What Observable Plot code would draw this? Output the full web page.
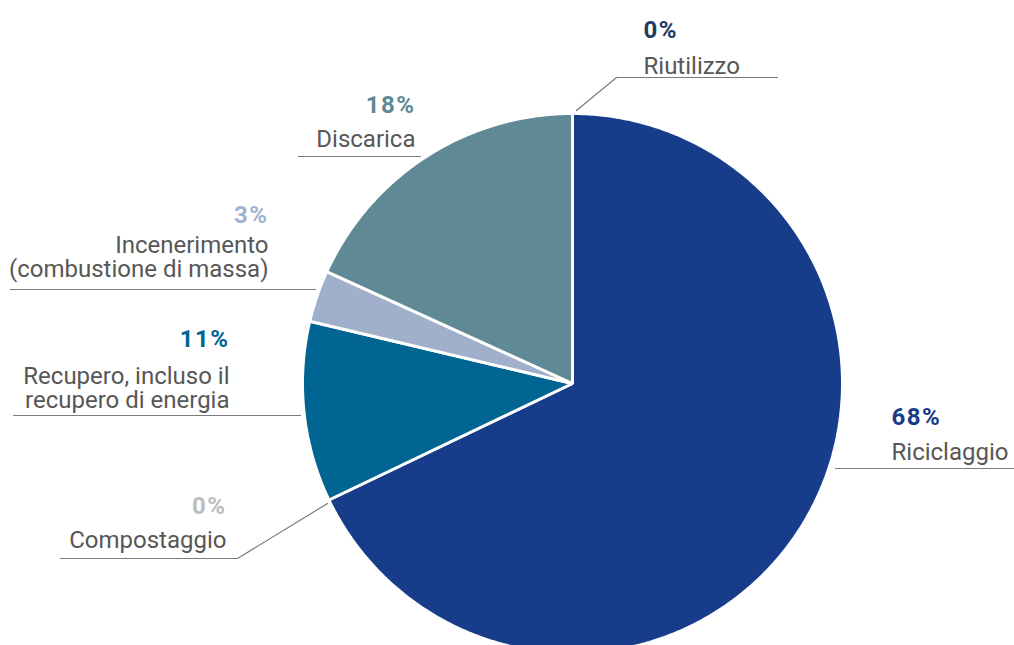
<!DOCTYPE html>
<html>
<head>
<meta charset="utf-8">
<script src="https://cdn.jsdelivr.net/npm/d3@7"></script>
<script src="https://cdn.jsdelivr.net/npm/@observablehq/plot@0.6"></script>
<style>
  html, body { margin: 0; padding: 0; background: #fff; }
  #chart svg { display: block; }
  .pct text { letter-spacing: 1.5px; }
</style>
</head>
<body>
<div id="chart"></div>
<script>
// ---- data ----
const categories = ["Riciclaggio", "Compostaggio", "Recupero", "Incenerimento", "Discarica", "Riutilizzo"];
const values = [67.9, 0, 10.8, 3.1, 18.2, 0];
const labelNames = [
  "Riciclaggio",
  "Compostaggio",
  "Recupero, incluso il\nrecupero di energia",
  "Incenerimento\n(combustione di massa)",
  "Discarica",
  "Riutilizzo"
];
const sliceColors = ["#173c8a", "#b8b8b8", "#006593", "#a0b0ca", "#5f8a95", "#1f3a60"];
const pctColors = ["#173c8a", "#bcbcbc", "#006593", "#a0b3d0", "#5f8a96", "#1f3a60"];

// ---- layout (pixels) ----
const W = 1014, H = 645;
const cx = 572, cy = 383, R = 270;
// label anchors: x, text anchor, pct baseline, name last-line baseline
const labelLayout = [
  {x: 891, anchor: "start", py: 424, ny: 459},
  {x: 226, anchor: "end",   py: 513, ny: 547},
  {x: 229, anchor: "end",   py: 346, ny: 407},
  {x: 268, anchor: "end",   py: 222, ny: 276},
  {x: 415, anchor: "end",   py: 112, ny: 146},
  {x: 643, anchor: "start", py: 37,  ny: 73}
];
const leaders = [
  [[835, 468], [1014, 468]],
  [[60, 558], [237, 558], [327, 503]],
  [[13, 415], [300, 415]],
  [[10, 289], [315, 289]],
  [[298, 156], [420, 156]],
  [[576, 110], [616, 77], [777, 77]]
];

// ---- build slices ----
const pie = d3.pie().sort(null).value(d => d.value)(
  categories.map((c, i) => ({key: c, value: values[i], color: sliceColors[i]}))
);
const slicePts = [];
for (const s of pie) {
  if (s.data.value <= 0) continue;
  const pts = [[cx, cy]];
  const n = Math.max(2, Math.ceil((s.endAngle - s.startAngle) / (Math.PI / 360)));
  for (let k = 0; k <= n; k++) {
    const a = s.startAngle + (s.endAngle - s.startAngle) * k / n;
    pts.push([cx + R * Math.sin(a), cy - R * Math.cos(a)]);
  }
  for (const [x, y] of pts) slicePts.push({key: s.data.key, color: s.data.color, x, y});
}

const leaderPts = [];
leaders.forEach((l, i) => l.forEach(([x, y]) => leaderPts.push({key: categories[i], x, y})));

const labels = categories.map((c, i) => ({
  key: c,
  pct: Math.round(values[i]) + "%",
  name: labelNames[i],
  pctColor: pctColors[i],
  ...labelLayout[i]
}));
const startLabels = labels.filter(d => d.anchor === "start");
const endLabels = labels.filter(d => d.anchor === "end");

const textMarks = [];
for (const [set, anchor] of [[startLabels, "start"], [endLabels, "end"]]) {
  textMarks.push(Plot.text(set, {
    x: "x", y: "py", text: "pct", fill: "pctColor", textAnchor: anchor,
    lineAnchor: "bottom", fontSize: 24, fontWeight: "bold", className: "pct"
  }));
  textMarks.push(Plot.text(set, {
    x: "x", y: "ny", text: "name", fill: "#575757", textAnchor: anchor,
    lineAnchor: "bottom", fontSize: 24, lineHeight: 0.96
  }));
}

const chart = Plot.plot({
  width: W,
  height: H,
  margin: 0,
  x: {domain: [0, W], range: [0, W], axis: null},
  y: {domain: [0, H], range: [0, H], axis: null},
  color: {type: "identity"},
  style: {fontFamily: "Roboto, 'Noto Sans', sans-serif", background: "#fff"},
  marks: [
    Plot.line(slicePts, {x: "x", y: "y", z: "key", fill: "color", stroke: "white", strokeWidth: 3, curve: "linear-closed", strokeLinejoin: "miter"}),
    Plot.line(leaderPts, {x: "x", y: "y", z: "key", stroke: "#7a7a7a", strokeWidth: 1.2}),
    ...textMarks
  ]
});
document.getElementById("chart").appendChild(chart);
</script>
</body>
</html>
